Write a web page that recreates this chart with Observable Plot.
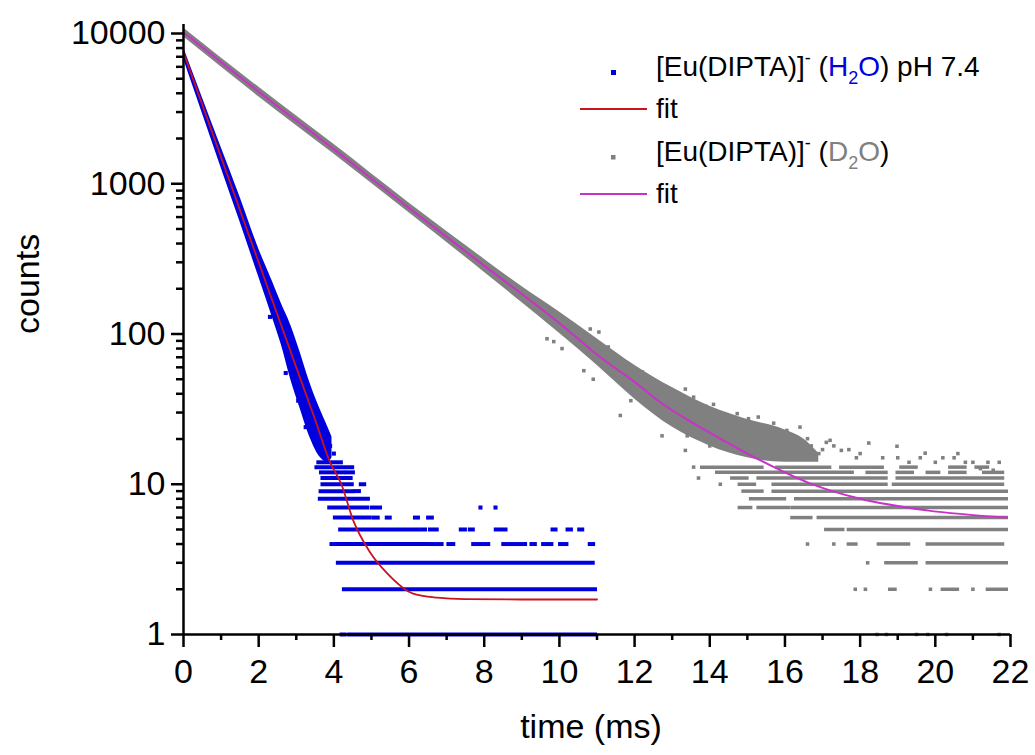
<!DOCTYPE html>
<html><head><meta charset="utf-8">
<script src="https://cdn.jsdelivr.net/npm/d3@7"></script>
<script src="https://cdn.jsdelivr.net/npm/@observablehq/plot@0.6"></script>
<style>
body{margin:0;background:#fff}
#chart{width:1035px;height:755px}
</style>
</head><body><div id="chart"></div>
<script>
// ---- tick labels ----
const xMajorTicks = [0, 2, 4, 6, 8, 10, 12, 14, 16, 18, 20, 22];
const xMinorTicks = [1, 3, 5, 7, 9, 11, 13, 15, 17, 19, 21];
const yMajorTicks = [1, 10, 100, 1000, 10000];
const yMinorFactors = [2, 3, 4, 5, 6, 7, 8, 9];

// ---- H2O data: dense cloud envelope (time ms, low / high counts) ----
const h2oBandT  = [0,    0.5,  1.0,  1.5, 2.0, 2.36, 2.6, 2.85, 3.1, 3.33, 3.6, 3.85, 3.95];
const h2oBandLo = [6800, 2950, 1280, 560, 240, 130,  85,  50,   32,   21.5, 15.5, 14,  15];
const h2oBandHi = [8100, 3750, 1750, 820, 370, 225,  160, 115,  76,   50,   33,   23.7, 20.6];
// isolated points at the cloud edge [count, t]
const h2oDots = [
  [7,7.9],[7,8.3],[600,1.55],[440,1.78],[250,2.2],[170,2.45],[95,2.75],[70,2.98],[48,3.2],[40,3.3],
  [28,3.5],[25,3.45],[22,3.65],[19,3.78],[18,3.9],[16,4.0],[130,2.3],[55,2.72],[36,3.05],[24,3.25]
];
// integer-count rows [count, t start, t end]
const h2oRows = [
  [14,3.6,4.2],[13,3.55,4.5],[12,3.67,4.25],[12,4.34,4.52],[11,3.71,4.46],
  [10,3.71,4.49],[10,4.73,4.82],[9,3.66,4.49],[9,4.57,4.68],[8,3.64,4.92],
  [7,3.89,4.9],[7,5.02,5.24],[6,4.04,4.97],[6,5.08,5.18],[6,5.42,5.5],[6,6.17,6.25],[6,6.52,6.62],
  [5,4.18,6.25],[5,6.35,6.44],[5,6.57,6.75],[5,7.39,7.5],[5,7.63,7.71],[5,8.32,8.58],
  [5,9.83,9.91],[5,10.23,10.32],[5,10.54,10.62],
  [4,3.95,4.04],[4,4.09,6.52],[4,6.61,6.88],[4,7.06,7.19],[4,7.72,8.12],[4,8.52,9.1],
  [4,9.27,9.36],[4,9.58,9.8],[4,10.03,10.2],[4,10.82,10.91],
  [3,4.12,10.9],[2,4.28,10.96],[1,4.22,4.3],[1,4.42,10.96]
];
// fit
const h2oFitT = [0, 1, 2, 3, 3.5, 3.9, 4.2, 4.52, 4.97, 5.42, 6.09, 6.75, 7.5, 9, 11];
const h2oFitC = [7500, 1500, 300, 60, 27, 14, 10, 5.7, 3.5, 2.55, 1.88, 1.76, 1.72, 1.71, 1.71];

// ---- D2O data ----
const d2oBandT  = [0,     2,    4,    6,   8,   9,   10,  11, 12, 13, 14, 15, 16, 16.5, 16.9];
const d2oBandLo = [9500,  3800, 1580, 640, 258, 162, 101, 62, 37, 24, 18, 15, 14, 14,   14];
const d2oBandHi = [10900, 4400, 1830, 745, 315, 207, 140, 93, 62, 44, 33, 27, 23, 20,   16];
const d2oRows = [
  [13,13.8,15.4],[13,15.8,17.2],[13,17.5,18.6],[13,19.1,19.5],[13,20.4,20.8],[13,21.1,21.4],
  [12,14.2,17.8],[12,18.2,18.7],[12,19.0,19.4],[12,19.8,20.1],[12,20.4,20.8],[12,21.3,21.8],
  [11,14.6,15.0],[11,15.3,18.7],[11,19.0,21.8],
  [10,14.8,15.2],[10,15.7,18.7],[10,18.9,21.8],
  [9,14.9,15.4],[9,15.7,21.9],
  [8,15.1,16.0],[8,16.3,21.9],
  [7,14.8,15.1],[7,15.3,16.1],[7,16.2,21.9],
  [6,16.2,16.7],[6,16.9,21.9],
  [5,17.1,17.55],[5,17.7,21.9],
  [4,17.7,17.9],[4,18.5,19.3],[4,19.8,21.8],
  [3,18.7,19.5],[3,19.8,21.9],
  [2,18.8,18.94],[2,20.2,20.6],[2,21.4,21.9]
];
const d2oDots = [
  [4,16.6],[4,17.3],[3,18.2],[2,17.87],[2,18.14],[2,19.87],[2,21.0],
  [1,18.45],[1,18.7],[1,19.5],[1,19.8],[1,20.3],[1,21.7],
  [108,10.82],[103,11.05],[82,11.3],[28.7,11.62],[93,9.67],[89,9.85],[80,10.07],[57,10.65],
  [43,13.35],[38,13.57],[28.7,14.28],[28,14.63],[28,15.29],[13,13.57],[11,13.7],[21,13.4],
  [21,12.73],[16.8,13.35],[10,14.28],[18.8,18.23],[17.9,18.98],[19.6,17.2],[16.8,17.5],
  [16.1,19.73],[15,20.2],[14,20.8],[20.1,16.6],[22.8,16.05],[25.5,15.7],[34,14.1],
  [29.5,14.73],[27.3,15.03],[12.7,21.2],[12.4,21.54],
  [15,17.9],[15,18.6],[14,19.3],[15,19.6],[14,20.0],[15,20.5],[14,21.0],[14,21.4],[16,16.9],[17,17.7],
  [50,10.9],[95,10.6],[36,11.9],[56,12.2],[30,12.9],[45,12.0],[18,14.0],[33,13.9],[20,15.6],[24,16.4],
  [17,17.0],[18,17.3],[16,18.0],[15,19.0],[16,20.6],[14,21.7],[62,11.2],[48,11.7],
  [20,16.2],[18,16.7],[17,16.3],[22,15.4],[19,17.1]
];
const d2oFitT = [0, 2, 4, 6, 8, 10, 11.09, 12, 12.69, 13.5, 14.46, 15.35, 16.68, 18, 19.78, 21.9];
const d2oFitC = [10200, 4100, 1700, 690, 285, 118, 70, 48, 35, 26, 19, 14.4, 10.1, 8.0, 6.7, 6.0];

// ---- legend labels ----
const legendNames = ["[Eu(DIPTA)]", "fit", "[Eu(DIPTA)]", "fit"];
const solventNames = ["H", "D"];

// ---- colours ----
const BLUE = "#0000dd", GRAY = "#808080", RED = "#c8141e", MAGENTA = "#c832c8";

// ---- tables ----
const band = (T, Lo, Hi) => T.map((t, i) => ({t, lo: Lo[i], hi: Hi[i]}));
const fit = (T, C) => T.map((t, i) => ({t, c: C[i]}));
const yMinorTicks = yMajorTicks.slice(0, -1).flatMap(d => yMinorFactors.map(k => k * d));
const FONT = "'Liberation Sans', Arial, sans-serif";

const plot = Plot.plot({
  width: 1035, height: 755,
  marginLeft: 183, marginRight: 25, marginTop: 33, marginBottom: 121,
  style: {fontFamily: FONT, background: "#fff", color: "#000"},
  x: {domain: [0, 22], label: null, axis: null},
  y: {type: "log", domain: [1, 10000], label: null, axis: null},
  marks: [
    // H2O data
    Plot.areaY(band(h2oBandT, h2oBandLo, h2oBandHi), {x: "t", y1: "lo", y2: "hi", fill: BLUE, curve: "monotone-x"}),
    Plot.ruleY(h2oRows, {y: d => d[0], x1: d => d[1], x2: d => d[2], stroke: BLUE, strokeWidth: 4, strokeLinecap: "square"}),
    Plot.dot(h2oDots, {x: d => d[1], y: d => d[0], symbol: "square", r: 2.3, fill: BLUE}),
    Plot.line(fit(h2oFitT, h2oFitC), {x: "t", y: "c", stroke: RED, strokeWidth: 1.8, curve: "monotone-x"}),
    // D2O data
    Plot.areaY(band(d2oBandT, d2oBandLo, d2oBandHi), {x: "t", y1: "lo", y2: "hi", fill: GRAY, curve: "monotone-x"}),
    Plot.ruleY(d2oRows, {y: d => d[0], x1: d => d[1], x2: d => d[2], stroke: GRAY, strokeWidth: 3.5, strokeLinecap: "square"}),
    Plot.dot(d2oDots, {x: d => d[1], y: d => d[0], symbol: "square", r: 2, fill: GRAY}),
    Plot.line(fit(d2oFitT, d2oFitC), {x: "t", y: "c", stroke: MAGENTA, strokeWidth: 2, curve: "monotone-x"}),
    // axes
    Plot.ruleY([1], {stroke: "#000", strokeWidth: 2.5}),
    Plot.ruleX([0], {y1: 1, y2: 11500, stroke: "#000", strokeWidth: 2.5}),
    Plot.axisX(xMajorTicks, {tickSize: 13, tickPadding: 11, fontSize: 34, stroke: "#000", fill: "#000", tickFormat: d => String(d), label: null}),
    Plot.axisX(xMinorTicks, {tickSize: 6, stroke: "#000", tickFormat: () => "", label: null}),
    Plot.axisY(yMajorTicks, {tickSize: 12, tickPadding: 6, fontSize: 34, stroke: "#000", fill: "#000", tickFormat: d => String(d), label: null}),
    Plot.axisY(yMinorTicks, {tickSize: 7, stroke: "#000", tickFormat: () => "", label: null}),
    Plot.text(["counts"], {frameAnchor: "left", dx: -155, rotate: -90, fontSize: 34, fill: "#000"}),
    Plot.text(["time (ms)"], {frameAnchor: "bottom", dx: -6, dy: 103, fontSize: 34, fill: "#000"})
  ]
});

const svg = d3.select(plot);
// heavier axis ticks
svg.selectAll("g[aria-label$='axis tick']").attr("stroke-width", 2.5).attr("stroke", "#000");

// ---- legend ----
const lg = svg.append("g").attr("font-family", FONT).attr("font-size", 28).attr("fill", "#000").attr("text-anchor", "start");
function sampleLabel(row, baseY, colour, solvent, extra) {
  const t = lg.append("text").attr("x", 656).attr("y", baseY).attr("text-anchor", "start");
  t.append("tspan").text(legendNames[row]);
  t.append("tspan").attr("font-size", 18).attr("dy", -12).text("-");
  t.append("tspan").attr("dy", 12).text(" (");
  t.append("tspan").attr("fill", colour).text(solvent);
  t.append("tspan").attr("fill", colour).attr("font-size", 18).attr("dy", 8).text("2");
  t.append("tspan").attr("fill", colour).attr("dy", -8).text("O");
  t.append("tspan").text(")" + extra);
}
lg.append("rect").attr("x", 611).attr("y", 70).attr("width", 5).attr("height", 5).attr("fill", BLUE);
sampleLabel(0, 76, BLUE, solventNames[0], " pH 7.4");
lg.append("line").attr("x1", 580).attr("x2", 647).attr("y1", 109).attr("y2", 109).attr("stroke", RED).attr("stroke-width", 1.8);
lg.append("text").attr("x", 656).attr("y", 118).attr("text-anchor", "start").text(legendNames[1]);
lg.append("rect").attr("x", 611).attr("y", 155).attr("width", 4.5).attr("height", 4.5).attr("fill", GRAY);
sampleLabel(2, 161, GRAY, solventNames[1], "");
lg.append("line").attr("x1", 580).attr("x2", 647).attr("y1", 194).attr("y2", 194).attr("stroke", MAGENTA).attr("stroke-width", 2);
lg.append("text").attr("x", 656).attr("y", 203).attr("text-anchor", "start").text(legendNames[3]);

document.getElementById("chart").appendChild(plot);
</script>
</body></html>
